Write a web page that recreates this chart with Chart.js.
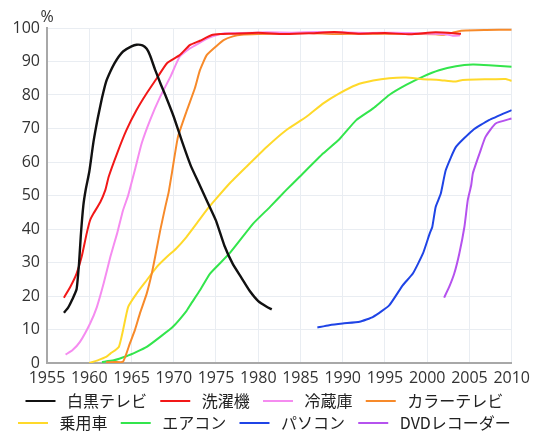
<!DOCTYPE html>
<html>
<head>
<meta charset="utf-8">
<script src="https://cdn.jsdelivr.net/npm/chart.js@4/dist/chart.umd.min.js"></script>
<style>
  html, body { margin: 0; padding: 0; background: #fff; }
  #wrap { width: 536px; height: 433px; position: relative; }
</style>
</head>
<body>
<div id="wrap"><canvas id="c"></canvas></div>
<script>
// ---- Data ----
const xTickLabels = [1955, 1960, 1965, 1970, 1975, 1980, 1985, 1990, 1995, 2000, 2005, 2010];
const yTickLabels = [0, 10, 20, 30, 40, 50, 60, 70, 80, 90, 100];
const unitLabel = '%';

const seriesNames = ['白黒テレビ', '洗濯機', '冷蔵庫', 'カラーテレビ', '乗用車', 'エアコン', 'パソコン', 'DVDレコーダー'];

const bwTvYears = [1957, 1957.5, 1958, 1958.5, 1958.8, 1959, 1959.3, 1959.6, 1960, 1960.5, 1961, 1961.5, 1962, 1962.5, 1963, 1963.5, 1964, 1965, 1965.6, 1966.3, 1966.8, 1967.2, 1967.8, 1968.5, 1969, 1970, 1971, 1972, 1973, 1974, 1975, 1976, 1977, 1978, 1979, 1980, 1981, 1981.6];
const bwTvValues = [15, 16.5, 19, 22, 30, 38, 47, 52, 57, 66, 73, 79, 84, 87, 89.5, 91.5, 93, 94.5, 95, 94.8, 93.8, 91.8, 87.5, 83, 80, 73.5, 66, 59, 53.5, 48, 42.5, 35, 29.5, 25.5, 21.5, 18.5, 16.8, 16];

const washerYears = [1957, 1957.75, 1958.5, 1959.1, 1959.7, 1960.1, 1960.5, 1961.3, 1961.9, 1962.3, 1963.3, 1964.4, 1965.6, 1966.8, 1968, 1969.2, 1970.7, 1971.9, 1973.1, 1974.5, 1975.5, 1977, 1980, 1983, 1986, 1989, 1992, 1995, 1998, 2001, 2004];
const washerValues = [19.5, 22.7, 26.7, 31.7, 38.7, 42.6, 44.6, 48, 51.6, 55.6, 62.6, 69.5, 75.5, 80.5, 85, 89.5, 91.9, 94.9, 96.2, 97.9, 98.2, 98.3, 98.6, 98.2, 98.4, 98.8, 98.3, 98.5, 98.1, 98.7, 98.3];

const fridgeYears = [1957.2, 1958, 1958.9, 1960.1, 1960.9, 1961.7, 1962.5, 1963.3, 1964, 1964.6, 1965.4, 1966.2, 1967.2, 1968.4, 1969.6, 1970.7, 1971.9, 1973, 1974, 1975, 1976, 1978, 1981, 1984, 1987, 1990, 1993, 1996, 1999, 2002, 2003, 2003.9];
const fridgeValues = [2.5, 3.8, 6.3, 11.8, 16.7, 23.7, 31.7, 38.7, 45.6, 50, 57.6, 65.5, 72.5, 79.5, 85.4, 91.4, 93.9, 95.5, 96.9, 97.8, 98.4, 98.5, 98.7, 98.6, 98.8, 98.7, 98.5, 98.6, 98.4, 98.2, 97.7, 97.8];

const colorTvYears = [1962, 1963, 1964, 1964.8, 1965.4, 1966, 1966.8, 1967.4, 1967.8, 1968.4, 1969, 1969.4, 1969.8, 1970.5, 1971.5, 1972.5, 1973.1, 1973.9, 1975, 1975.9, 1977, 1978, 1980, 1983, 1986, 1989, 1992, 1995, 1998, 2001, 2002, 2003, 2004, 2007, 2010];
const colorTvValues = [0.2, 0.3, 0.4, 5.8, 9.8, 14.8, 20.7, 26.7, 31.7, 39.6, 46.6, 51, 57, 67.5, 75, 82, 87.4, 91.9, 94.5, 96.4, 97.5, 98, 98.2, 98.3, 98.5, 98.2, 98.3, 98.3, 98.3, 98.1, 98, 98.6, 99.2, 99.4, 99.5];

const carYears = [1960, 1961, 1962, 1962.5, 1963.5, 1964, 1964.6, 1965.6, 1966.8, 1968, 1969.2, 1970.3, 1971.5, 1972.7, 1974, 1975, 1976.6, 1978.6, 1981, 1983.3, 1985.7, 1987.7, 1989.6, 1991.6, 1993.6, 1995.5, 1997.5, 1999.5, 2001.4, 2003.2, 2004.2, 2007.3, 2009.3, 2010];
const carValues = [0, 0.8, 1.8, 2.8, 4.8, 9.8, 16.7, 20.7, 24.7, 28.7, 31.7, 34.2, 37.6, 41.6, 46, 49, 53.6, 58.6, 64.5, 69.5, 73.5, 77.5, 80.5, 83, 84.3, 85, 85.2, 84.7, 84.5, 84, 84.5, 84.7, 84.8, 84.2];

const acYears = [1961.5, 1962.9, 1964.4, 1965.6, 1966.8, 1968.4, 1969.9, 1971.5, 1972, 1973.1, 1974.3, 1976.6, 1979.4, 1981.4, 1983.3, 1984.9, 1987.7, 1989.6, 1991.6, 1993.6, 1995.5, 1997.5, 1999.5, 2001.4, 2003.4, 2005.4, 2007.3, 2010];
const acValues = [0.3, 0.8, 2, 3.3, 4.8, 7.8, 10.8, 15.5, 17.5, 21.7, 26.7, 32.7, 41.6, 46.6, 51.6, 55.6, 62.6, 66.8, 72.5, 76, 80, 83, 85.5, 87.4, 88.6, 89.1, 88.9, 88.4];

const pcYears = [1987, 1988.4, 1990, 1992, 1993.6, 1995.5, 1997.1, 1998.3, 1999.5, 2000.3, 2000.6, 2001, 2001.6, 2002.2, 2003.4, 2005.4, 2007.3, 2010];
const pcValues = [10.6, 11.3, 11.8, 12.3, 13.8, 17.2, 23.2, 26.7, 32.7, 38.7, 40.6, 46.6, 50.5, 57.6, 64.5, 69.5, 72.5, 75.5];

const dvdYears = [2002, 2002.6, 2003.2, 2003.8, 2004.4, 2004.8, 2005.2, 2005.4, 2006.2, 2006.9, 2008.1, 2010];
const dvdValues = [19.5, 22.7, 26.7, 32.7, 40.6, 48.6, 53, 56.6, 62.6, 67.5, 71.5, 73];

const seriesColors = ['#111111', '#f21818', '#f58cf0', '#f78a2a', '#ffd92a', '#33e54c', '#1f44e6', '#b552ee'];

// ---- Build chart ----
const yearLists = [bwTvYears, washerYears, fridgeYears, colorTvYears, carYears, acYears, pcYears, dvdYears];
const valueLists = [bwTvValues, washerValues, fridgeValues, colorTvValues, carValues, acValues, pcValues, dvdValues];

const datasets = seriesNames.map((name, k) => ({
  label: name,
  data: yearLists[k].map((yr, i) => ({ x: yr, y: valueLists[k][i] })),
  borderColor: seriesColors[k],
  backgroundColor: seriesColors[k],
  borderWidth: k === 0 ? 2.4 : 2,
  pointRadius: 0,
  tension: 0.15,
  fill: false
}));

const unitPlugin = {
  id: 'unitLabel',
  afterDraw(chart) {
    const { ctx, chartArea } = chart;
    ctx.save();
    ctx.font = '16px "Open Sans"';
    ctx.fillStyle = '#333';
    ctx.textAlign = 'center';
    ctx.textBaseline = 'middle';
    ctx.fillText(unitLabel, chartArea.left, chartArea.top - 11);
    ctx.restore();
  }
};

const tickFont = { family: '"Open Sans", sans-serif', size: 16 };

new Chart(document.getElementById('c'), {
  type: 'line',
  data: { datasets },
  plugins: [unitPlugin],
  options: {
    responsive: true,
    maintainAspectRatio: false,
    animation: false,
    layout: { padding: { top: 28, right: 6, left: 6, bottom: -8 } },
    scales: {
      x: {
        type: 'linear',
        min: xTickLabels[0],
        max: xTickLabels[xTickLabels.length - 1],
        afterBuildTicks: (s) => { s.ticks = xTickLabels.map(v => ({ value: v })); },
        afterFit: (s) => { s.height = 24; },
        ticks: { font: tickFont, color: '#333', padding: 6, maxRotation: 0, callback: (v) => String(v) },
        grid: { color: '#e9edf2', drawTicks: false, lineWidth: 1 },
        border: { color: '#a8a8a8', width: 2 }
      },
      y: {
        min: yTickLabels[0],
        max: yTickLabels[yTickLabels.length - 1],
        afterBuildTicks: (s) => { s.ticks = yTickLabels.map(v => ({ value: v })); },
        afterFit: (s) => { s.width = 41; },
        ticks: { font: tickFont, color: '#333', padding: 7, callback: (v) => String(v) },
        grid: { color: '#e9edf2', drawTicks: false, lineWidth: 1 },
        border: { color: '#a8a8a8', width: 2 }
      }
    },
    plugins: {
      tooltip: { enabled: false },
      legend: {
        position: 'bottom',
        labels: {
          font: { family: '"Noto Sans CJK JP", sans-serif', size: 16 },
          color: '#222',
          boxWidth: 30,
          boxHeight: 2,
          padding: 6,
          generateLabels: (chart) => {
            const items = Chart.defaults.plugins.legend.labels.generateLabels(chart);
            items.forEach(it => {
              it.lineWidth = 0;
              it.fillStyle = it.strokeStyle;
              it.text = ' ' + it.text + '  ';
            });
            return items;
          }
        }
      }
    }
  }
});
</script>
</body>
</html>
